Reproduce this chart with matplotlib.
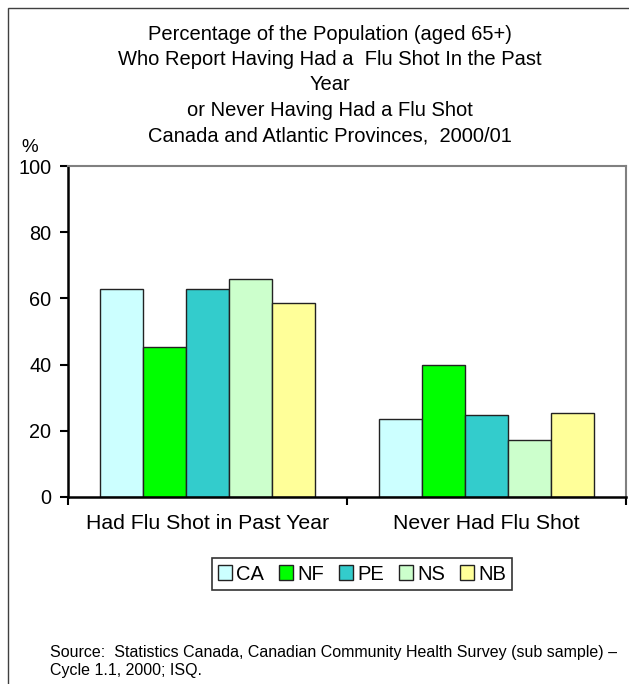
import matplotlib
matplotlib.use("Agg")
import matplotlib.pyplot as plt
from matplotlib.patches import Rectangle
import numpy as np

plt.rcParams['font.family'] = ['Liberation Sans', 'DejaVu Sans']

categories = ["Had Flu Shot in Past Year", "Never Had Flu Shot"]
series = ["CA", "NF", "PE", "NS", "NB"]
values = {
    "CA": [62.8, 23.5],
    "NF": [45.3, 39.8],
    "PE": [62.7, 24.9],
    "NS": [65.9, 17.3],
    "NB": [58.5, 25.3],
}
colors = ["#CCFFFF", "#00FF00", "#33CCCC", "#CCFFCC", "#FFFF99"]
yticks = [0, 20, 40, 60, 80, 100]
title_lines = [
    "Percentage of the Population (aged 65+)",
    "Who Report Having Had a  Flu Shot In the Past",
    "Year",
    "or Never Having Had a Flu Shot",
    "Canada and Atlantic Provinces,  2000/01",
]
source_lines = [
    "Source:  Statistics Canada, Canadian Community Health Survey (sub sample) \u2013",
    "Cycle 1.1, 2000; ISQ.",
]

W, H = 629, 684
fig = plt.figure(figsize=(W / 100, H / 100), dpi=100)

# outer frame
fig.patches.append(Rectangle((8 / W, -0.05), 1.2, 1 - 8 / H + 0.05, transform=fig.transFigure,
                             fill=False, edgecolor="#404040", linewidth=1.0))

ax = fig.add_axes([68 / W, 1 - 497 / H, (626 - 68) / W, (497 - 166) / H])

x = np.arange(len(categories))
bw = 0.154
n = len(series)
for i, s in enumerate(series):
    ax.bar(x + (i - (n - 1) / 2) * bw, values[s], width=bw, color=colors[i],
           edgecolor="#222222", linewidth=1.0, label=s)

ax.set_xlim(-0.5, 1.5)
ax.set_ylim(0, 100)
ax.set_yticks(yticks)
ax.set_yticklabels([str(v) for v in yticks], fontsize=14.3)
ax.set_xticks([-0.5, 0.5, 1.5])
ax.set_xticklabels([])
ax.set_xticks(x, minor=True)
ax.set_xticklabels(categories, minor=True, fontsize=15.3)
ax.tick_params(axis='x', which='minor', length=0, pad=12)
ax.tick_params(axis='x', which='major', length=6, width=1.5, direction='out')
ax.tick_params(axis='y', length=6, width=1.5, direction='out', pad=6)

for side in ["left", "bottom"]:
    ax.spines[side].set_color("black")
    ax.spines[side].set_linewidth(1.8)
for side in ["top", "right"]:
    ax.spines[side].set_color("#808080")
    ax.spines[side].set_linewidth(1.5)

# title
ys = [34, 59.5, 85, 110.5, 136]
for t, yy in zip(title_lines, ys):
    fig.text(330 / W, 1 - yy / H, t, ha="center", va="center", fontsize=14.5)
fig.text(30 / W, 1 - 147 / H, "%", ha="center", va="center", fontsize=13.5)

leg = fig.legend(loc="center", bbox_to_anchor=(362 / W, 1 - 574 / H), ncol=5,
                 fontsize=14.5, frameon=True, fancybox=False, handlelength=0.7,
                 handleheight=0.7, handletextpad=0.2, columnspacing=0.75,
                 borderpad=0.3, borderaxespad=0)
leg.get_frame().set_edgecolor("black")
leg.get_frame().set_linewidth(1.2)

fig.text(50 / W, 1 - 653 / H, source_lines[0], ha="left", va="center", fontsize=11.5)
fig.text(50 / W, 1 - 670 / H, source_lines[1], ha="left", va="center", fontsize=11.5)

fig.savefig("out.png", dpi=100)
